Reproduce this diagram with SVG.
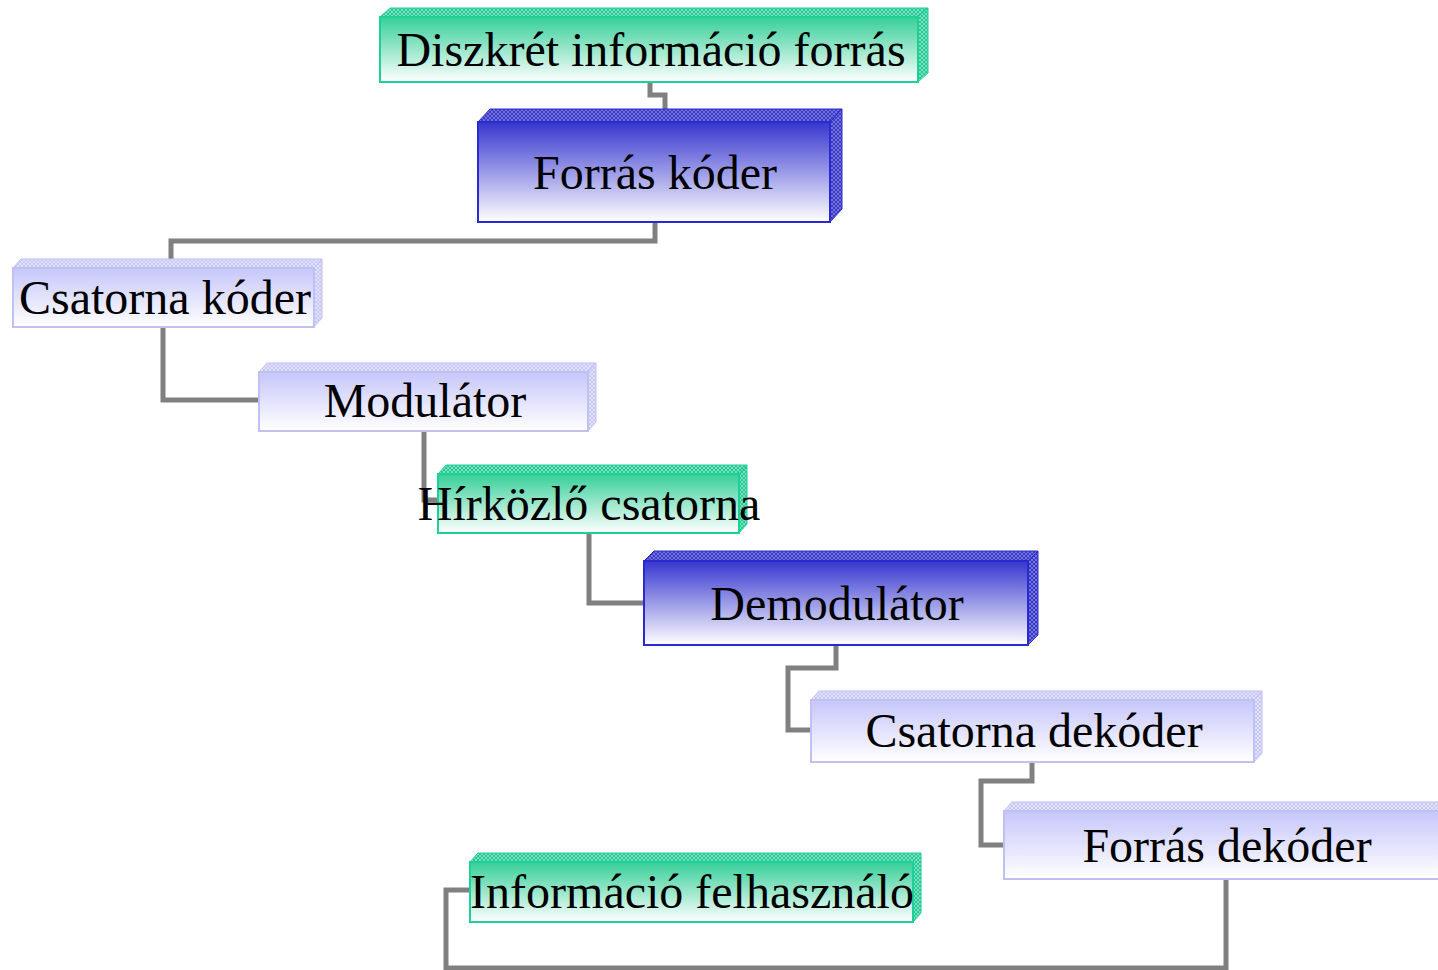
<svg xmlns="http://www.w3.org/2000/svg" width="1438" height="970" viewBox="0 0 1438 970">
<style>
.lbl{font-family:"Liberation Serif","Times New Roman",serif;font-size:48px;fill:#000;text-anchor:middle}
.conn{fill:none;stroke:#808080;stroke-width:5;stroke-linejoin:miter}
.g-front{fill:url(#gGreen);stroke:#1fcf98;stroke-width:2}
.g-top{fill:url(#pGreen);stroke:#1fcf98;stroke-width:1}
.b-front{fill:url(#gBlue);stroke:#2a2ad0;stroke-width:2}
.b-top{fill:url(#pBlue);stroke:#2a2ad0;stroke-width:1}
.l-front{fill:url(#gLav);stroke:#c0c0f4;stroke-width:2}
.l-top{fill:url(#pLav);stroke:#c0c0f4;stroke-width:1}
</style>
<defs>
<linearGradient id="gGreen" x1="0" y1="0" x2="0" y2="1">
<stop offset="0" stop-color="#36cf98"/><stop offset="1" stop-color="#ffffff"/>
</linearGradient>
<linearGradient id="gBlue" x1="0" y1="0" x2="0" y2="1">
<stop offset="0" stop-color="#3636cf"/><stop offset="1" stop-color="#ffffff"/>
</linearGradient>
<linearGradient id="gLav" x1="0" y1="0" x2="0" y2="1">
<stop offset="0" stop-color="#c6c6fb"/><stop offset="1" stop-color="#ffffff"/>
</linearGradient>
<pattern id="pGreen" width="4" height="4" patternUnits="userSpaceOnUse">
<rect width="4" height="4" fill="#26c996"/><path d="M0 0L4 4M4 0L0 4" stroke="#8fe6c8" stroke-width="0.8"/>
</pattern>
<pattern id="pBlue" width="4" height="4" patternUnits="userSpaceOnUse">
<rect width="4" height="4" fill="#3a3ac8"/><path d="M0 0L4 4M4 0L0 4" stroke="#8080e0" stroke-width="0.8"/>
</pattern>
<pattern id="pLav" width="4" height="4" patternUnits="userSpaceOnUse">
<rect width="4" height="4" fill="#c8c8f6"/><path d="M0 0L4 4M4 0L0 4" stroke="#e8e8ff" stroke-width="0.8"/>
</pattern>
</defs>
<g id="connectors">
<path class="conn" d="M650 82V95H665V109"/>
<path class="conn" d="M655 222V241H171V260"/>
<path class="conn" d="M163 327V400H260"/>
<path class="conn" d="M424 431V500H438"/>
<path class="conn" d="M589 533V603H644"/>
<path class="conn" d="M836 645V668H788V730H812"/>
<path class="conn" d="M1032 762V781H981V845H1004"/>
<path class="conn" d="M1226 879V968H446V890H470"/>
</g>
<g id="n1">
<polygon class="g-top" points="380,17 390,8 928,8 918,17"/>
<polygon class="g-top" points="918,17 928,8 928,73 918,82"/>
<rect class="g-front" x="380" y="17" width="538" height="65"/>
<text class="lbl" x="651" y="66">Diszkrét információ forrás</text>
</g>
<g id="n2">
<polygon class="b-top" points="478,122 490,109 842,109 830,122"/>
<polygon class="b-top" points="830,122 842,109 842,209 830,222"/>
<rect class="b-front" x="478" y="122" width="352" height="100"/>
<text class="lbl" x="655" y="189">Forrás kóder</text>
</g>
<g id="n3">
<polygon class="l-top" points="13,268 21,259 322,259 314,268"/>
<polygon class="l-top" points="314,268 322,259 322,318 314,327"/>
<rect class="l-front" x="13" y="268" width="301" height="59"/>
<text class="lbl" x="165" y="314">Csatorna kóder</text>
</g>
<g id="n4">
<polygon class="l-top" points="259,372 267,363 596,363 588,372"/>
<polygon class="l-top" points="588,372 596,363 596,422 588,431"/>
<rect class="l-front" x="259" y="372" width="329" height="59"/>
<text class="lbl" x="425" y="417">Modulátor</text>
</g>
<g id="n5">
<polygon class="g-top" points="438,474 446,465 747,465 739,474"/>
<polygon class="g-top" points="739,474 747,465 747,524 739,533"/>
<rect class="g-front" x="438" y="474" width="301" height="59"/>
<text class="lbl" x="589" y="520">Hírközlő csatorna</text>
</g>
<g id="n6">
<polygon class="b-top" points="644,561 654,551 1038,551 1028,561"/>
<polygon class="b-top" points="1028,561 1038,551 1038,635 1028,645"/>
<rect class="b-front" x="644" y="561" width="384" height="84"/>
<text class="lbl" x="837" y="620">Demodulátor</text>
</g>
<g id="n7">
<polygon class="l-top" points="811,700 819,691 1262,691 1254,700"/>
<polygon class="l-top" points="1254,700 1262,691 1262,753 1254,762"/>
<rect class="l-front" x="811" y="700" width="443" height="62"/>
<text class="lbl" x="1034" y="747">Csatorna dekóder</text>
</g>
<g id="n8">
<polygon class="l-top" points="1004,811 1012,802 1458,802 1450,811"/>
<rect class="l-front" x="1004" y="811" width="446" height="68"/>
<text class="lbl" x="1227" y="862">Forrás dekóder</text>
</g>
<g id="n9">
<polygon class="g-top" points="470,862 478,853 921,853 913,862"/>
<polygon class="g-top" points="913,862 921,853 921,913 913,922"/>
<rect class="g-front" x="470" y="862" width="443" height="60"/>
<text class="lbl" x="692" y="908">Információ felhasználó</text>
</g>
</svg>
